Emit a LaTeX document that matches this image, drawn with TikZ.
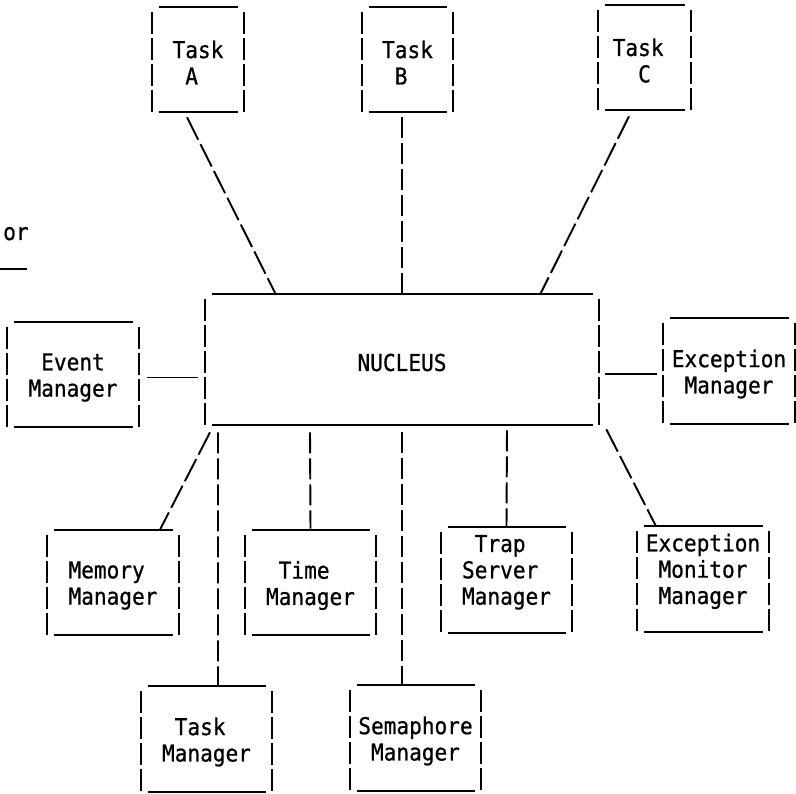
\documentclass[tikz,border=0pt]{standalone}
\usepackage{fontspec}
\setmonofont[FakeStretch=0.91, FakeBold=0.8]{DejaVu Sans Mono}
\usetikzlibrary{calc}
\newcommand{\boxfont}{\ttfamily\fontsize{13.2}{15}\selectfont}
\tikzstyle{modbox} = [rectangle, inner sep=0pt, align=left, font=\boxfont, minimum height=2.02cm]
\tikzstyle{vside} = [line width=1.1pt, dash pattern=on 0.44cm off 0.08cm]
\tikzstyle{hline} = [line width=1.1pt]
\tikzstyle{link} = [line width=1.1pt, dash pattern=on 0.42cm off 0.1cm]
\tikzstyle{slantlink} = [line width=1.1pt, dash pattern=on 0.5cm off 0.1cm]
% typewriter frame: broken sides, rules on top and bottom
\newcommand{\ttyframe}[1]{%
  \draw[vside] (#1.north west) -- (#1.south west);
  \draw[vside] (#1.north east) -- (#1.south east);
  \draw[hline] ($(#1.north west)+(7,-5)$) -- ($(#1.north east)+(-6,-5)$);
  \draw[hline] ($(#1.south west)+(7,-1)$) -- ($(#1.south east)+(-6,-1)$);
}

\begin{document}
\begin{tikzpicture}[x=0.02cm, y=-0.02cm]
\useasboundingbox (0,0) rectangle (796,794);

% Tasks
\node[modbox, minimum width=1.84cm] (taskA) at (198,62.5) {Task\\~A};
\node[modbox, minimum width=1.82cm] (taskB) at (407.5,62.5) {Task\\~B};
\node[modbox, minimum width=1.86cm] (taskC) at (644.5,60.5) {Task\hphantom{x}\\~~C};

% Nucleus
\node[modbox, minimum width=7.88cm, minimum height=2.54cm] (nucleus) at (402,362.5) {NUCLEUS};

% Side managers
\node[modbox, minimum width=2.64cm] (event) at (73,377.5) {~Event\\Manager};
\node[modbox, minimum width=2.64cm] (exception) at (729,374) {Exception\\~Manager};

% Lower managers
\node[modbox, minimum width=2.64cm] (memory) at (113,585.5) {Memory\\Manager};
\node[modbox, minimum width=2.62cm] (time) at (310.5,585.5) {~Time\\Manager};
\node[modbox, minimum width=2.62cm] (trap) at (506.5,583) {~Trap\\Server\\Manager\\~};
\node[modbox, minimum width=2.64cm] (excmonitor) at (703,582) {Exception\\~Monitor\\~Manager\\~};
\node[modbox, minimum width=2.62cm] (taskmgr) at (206.5,742) {~Task\\Manager};
\node[modbox, minimum width=2.62cm] (semaphore) at (415.5,741) {Semaphore\\~Manager};

% Frames
\foreach \b in {taskA,taskB,taskC,nucleus,event,exception,memory,time,trap,excmonitor,taskmgr,semaphore}
  {\ttyframe{\b}}

% Cut-off text at the left edge
\node[anchor=base east, inner sep=0pt, font=\boxfont] (orfrag) at (29,240) {or};
\draw[hline] (0,269) -- (27,269);

% Links
\draw[slantlink] ($(taskA.south)+(-11,4)$) -- ($(nucleus.north)+(-126,-4)$);
\draw[link] ($(taskB.south)+(-5.5,4)$) -- ($(nucleus.north)+(0,-4)$);
\draw[slantlink] ($(taskC.south)+(-15.5,5)$) -- ($(nucleus.north)+(138,-4)$);
\draw[hline] ($(event.east)+(8,0)$) -- ($(nucleus.west |- event.east)+(-7,0)$);
\draw[hline] ($(nucleus.east |- exception.west)+(6,0)$) -- ($(exception.west)+(-6,0)$);
\draw[slantlink] ($(nucleus.south)+(-192,6)$) -- ($(memory.north)+(47,-5)$);
\draw[link] ($(nucleus.south)+(-184,6)$) -- ($(taskmgr.north)+(11.5,-5)$);
\draw[link] ($(nucleus.south)+(-92,6)$) -- ($(time.north)+(0,-6)$);
\draw[link] ($(nucleus.south)+(0,6)$) -- ($(semaphore.north)+(-13.5,-5)$);
\draw[link] ($(nucleus.south)+(105,4)$) -- ($(trap.north)+(0,-5)$);
\draw[slantlink] ($(nucleus.south east)+(7,3)$) -- ($(excmonitor.north)+(-47,-5)$);

\end{tikzpicture}
\end{document}
